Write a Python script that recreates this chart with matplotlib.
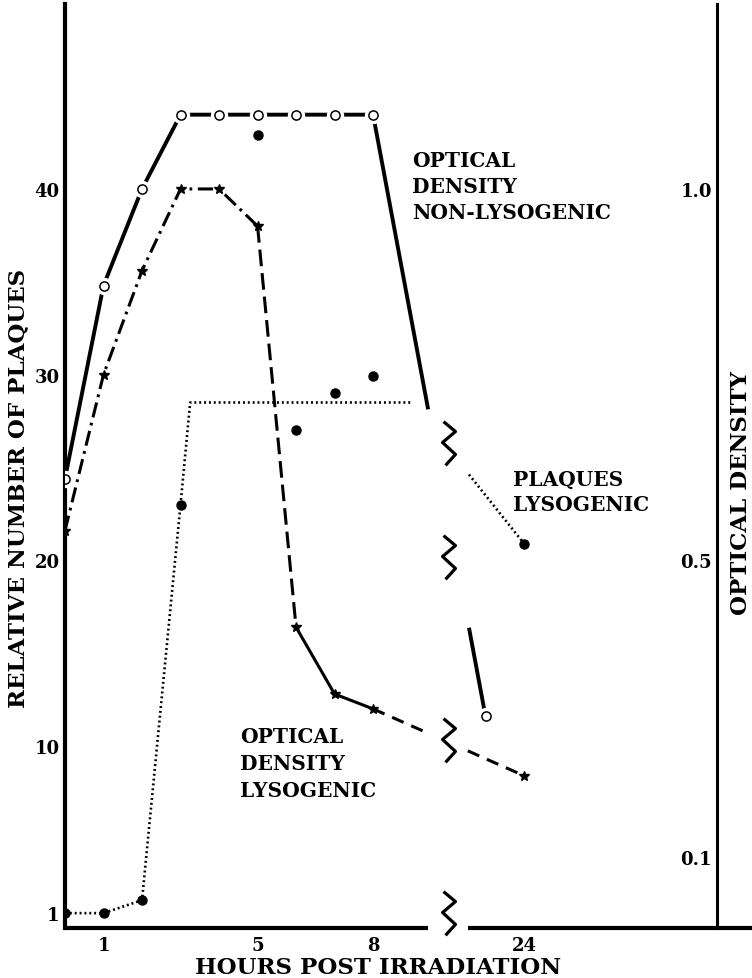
import numpy as np
import matplotlib
matplotlib.use("Agg")
import matplotlib.pyplot as plt

plt.rcParams['font.family'] = ['DejaVu Serif']
plt.rcParams['font.weight'] = 'bold'
plt.rcParams['axes.labelweight'] = 'bold'
plt.rcParams['lines.scale_dashes'] = False

# ---------------- data ----------------
od_nonlyso_hours = [0, 1, 2, 3, 4, 5, 6, 7, 8, 23]
od_nonlyso = [0.61, 0.87, 1.00, 1.10, 1.10, 1.10, 1.10, 1.10, 1.10, 0.29]

od_lyso_hours = [0, 1, 2, 3, 4, 5, 6, 7, 8, 24]
od_lyso = [0.54, 0.75, 0.89, 1.00, 1.00, 0.95, 0.41, 0.32, 0.30, 0.21]

plaque_hours = [0, 1, 2, 3, 5, 6, 7, 8, 24]
plaques = [1.0, 1.0, 1.7, 23.0, 42.9, 27.0, 29.0, 29.9, 20.9]

# hand-drawn trend line through the plaque data
plaque_trend_hours = [0, 1, 2, 3, 3.25, 9.0, 24]
plaque_trend = [1.0, 1.0, 1.7, 23.0, 28.5, 28.5, 20.9]

x_ticks = [1, 5, 8, 24]
x_tick_labels = ['1', '5', '8', '24']
plaque_ticks = [1, 10, 20, 30, 40]
plaque_tick_labels = ['1', '10', '20', '30', '40']
od_ticks = [0.1, 0.5, 1.0]
od_tick_labels = ['0.1', '0.5', '1.0']
OD_PER_PLAQUE = 1 / 40.0

# ---------------- broken x axis ----------------
BREAK = 9.97
LATE_SHIFT = 12.08


def pos(hours):
    h = np.asarray(hours, dtype=float)
    return np.where(h < BREAK, h, h - LATE_SHIFT)


def split_gap(xs, ys, lo, hi):
    xs = np.asarray(xs, float)
    ys = np.asarray(ys, float)
    yl = np.interp(lo, xs, ys)
    yh = np.interp(hi, xs, ys)
    left = (np.r_[xs[xs < lo], lo], np.r_[ys[xs < lo], yl])
    right = (np.r_[hi, xs[xs > hi]], np.r_[yh, ys[xs > hi]])
    return left, right


fig = plt.figure(figsize=(7.52, 9.79), dpi=100)
ax = fig.add_axes([65 / 752, 50 / 979, 687 / 752, 924 / 979])
XMAX = 17.84
YLIM = (0.2, 49.96)
ax.set_xlim(0, XMAX)
ax.set_ylim(*YLIM)

ax_od = ax.twinx()
ax_od.set_ylim(YLIM[0] * OD_PER_PLAQUE, YLIM[1] * OD_PER_PLAQUE)

# ---- plaques (lysogenic), dotted trend + filled dots ----
tx = pos(plaque_trend_hours)
(lx, ly), (rx, ry) = split_gap(tx, plaque_trend, 9.0, 10.49)
for sx, sy in ((lx, ly), (rx, ry)):
    ax.plot(sx, sy, color='k', lw=1.9, linestyle=(0, (1.4, 2.1)),
            dash_capstyle='butt', zorder=2)
ax.plot(pos(plaque_hours), plaques, linestyle='none', marker='o',
        markersize=6.5, color='k', zorder=5)

# ---- OD non-lysogenic, solid with open circles ----
nx = pos(od_nonlyso_hours)
(lx, ly), (rx, ry) = split_gap(nx, od_nonlyso, 9.43, 10.49)
for sx, sy in ((lx, ly), (rx, ry)):
    ax_od.plot(sx, sy, color='k', lw=2.8, solid_capstyle='butt', zorder=2)
ax_od.plot(nx, od_nonlyso, linestyle='none', marker='o', markersize=11.5,
           mfc='white', mec='white', zorder=3)
ax_od.plot(nx, od_nonlyso, linestyle='none', marker='o', markersize=6.6,
           mfc='white', mec='k', mew=1.1, zorder=4)

# ---- OD lysogenic, dash-dot / dashed with stars ----
sx_all = pos(od_lyso_hours)
sy_all = np.asarray(od_lyso)
ax_od.plot(sx_all[:6], sy_all[:6], color='k', lw=2.2,
           linestyle=(0, (11, 4, 2, 4)), zorder=2)
ax_od.plot(sx_all[5:7], sy_all[5:7], color='k', lw=2.2,
           linestyle=(0, (12, 5)), zorder=2)
ax_od.plot(sx_all[6:9], sy_all[6:9], color='k', lw=2.2, zorder=2)
(lx, ly), (rx, ry) = split_gap(sx_all[8:], sy_all[8:], 9.43, 10.46)
for gx, gy in ((lx, ly), (rx, ry)):
    ax_od.plot(gx, gy, color='k', lw=2.2, linestyle=(0, (9, 6)), zorder=2)
ax_od.plot(sx_all, sy_all, linestyle='none', marker='*', markersize=7,
           color='k', zorder=4)

# ---- axis break marks ----
zig = [(-6, 22), (6, 12), (-7, 1), (6, -11), (-4, -22)]
break_marks = [26.3, 20.2, 10.3, 1.0]
ax.plot([BREAK] * len(break_marks), break_marks, linestyle='none', marker=zig,
        markersize=31.5, mfc='none', mec='k', mew=2.3, clip_on=False, zorder=3)

# ---- spines ----
for s in ('top', 'right', 'bottom'):
    ax.spines[s].set_visible(False)
ax.spines['left'].set_linewidth(3.0)
trans = ax.get_xaxis_transform()
ax.plot([0, 9.43], [0, 0], transform=trans, color='k', lw=3.0,
        clip_on=False, solid_capstyle='butt')
ax.plot([10.47, XMAX], [0, 0], transform=trans, color='k', lw=3.0,
        clip_on=False, solid_capstyle='butt')

for s in ('top', 'right', 'bottom'):
    ax_od.spines[s].set_visible(False)
ax_od.spines['left'].set_visible(True)
ax_od.spines['left'].set_position(('axes', 0.9495))
ax_od.spines['left'].set_linewidth(2.2)
ax_od.yaxis.tick_left()

# ---- ticks ----
ax.set_xticks(pos(x_ticks))
ax.set_xticklabels(x_tick_labels)
ax.set_yticks(plaque_ticks)
ax.set_yticklabels(plaque_tick_labels)
ax.tick_params(axis='both', length=0, labelsize=13)
ax.tick_params(axis='x', pad=6)
ax.tick_params(axis='y', pad=4)
ax_od.set_yticks(od_ticks)
ax_od.set_yticklabels(od_tick_labels)
ax_od.tick_params(axis='y', length=0, labelsize=13, pad=4)

# ---- axis labels ----
ax.set_xlabel('HOURS POST IRRADIATION', fontsize=16.5, va='center')
ax.xaxis.set_label_coords(0.4556, -0.0425)
ax.set_ylabel('RELATIVE NUMBER OF PLAQUES', fontsize=16.5, va='center')
ax.yaxis.set_label_coords(-0.0684, 0.477)
ax_od.set_ylabel('OPTICAL DENSITY', fontsize=16.5, va='center', rotation=90)
ax_od.yaxis.set_label_coords(0.984, 0.472)

# ---- curve annotations ----
ax.text(9.01, 42.1, 'OPTICAL\nDENSITY\nNON-LYSOGENIC', ha='left', va='top',
        fontsize=14.5, linespacing=1.38)
ax.text(11.64, 24.95, 'PLAQUES\nLYSOGENIC', ha='left', va='top',
        fontsize=14.5, linespacing=1.38)
ax.text(4.55, 11.1, 'OPTICAL\nDENSITY\nLYSOGENIC', ha='left', va='top',
        fontsize=14.5, linespacing=1.46)

fig.savefig('out.png', dpi=100)
